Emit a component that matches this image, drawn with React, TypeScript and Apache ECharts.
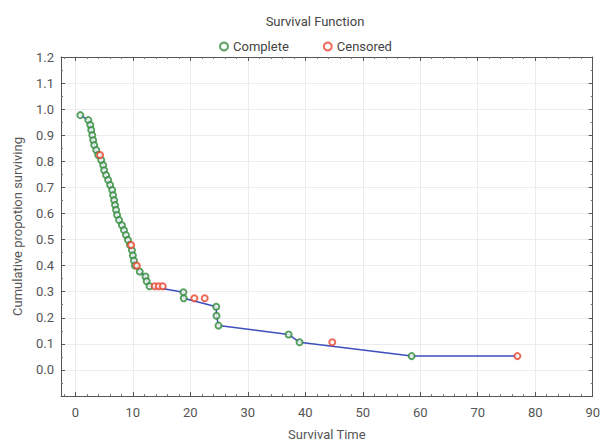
import React, { useEffect, useRef } from "react";
import * as echarts from "echarts";

const completeTime = [0.86, 2.25, 2.6, 2.76, 2.94, 3.1, 3.28, 3.63, 3.97, 4.5, 4.84, 5.0, 5.35, 5.7, 6.05, 6.4, 6.56, 6.74, 6.9, 7.08, 7.25, 7.6, 8.1, 8.46, 8.8, 9.15, 9.5, 9.84, 10.0, 10.2, 10.36, 11.2, 12.2, 12.4, 12.9, 18.8, 18.85, 24.5, 24.55, 24.9, 37.1, 39.0, 58.5];
const completeSurv = [0.977, 0.958, 0.939, 0.92, 0.9, 0.881, 0.862, 0.843, 0.824, 0.805, 0.785, 0.766, 0.747, 0.728, 0.709, 0.69, 0.67, 0.651, 0.632, 0.613, 0.594, 0.575, 0.555, 0.536, 0.517, 0.498, 0.479, 0.459, 0.439, 0.419, 0.4, 0.377, 0.358, 0.34, 0.321, 0.298, 0.275, 0.242, 0.208, 0.17, 0.136, 0.106, 0.053];
const censoredTime = [4.3, 9.7, 10.7, 13.8, 14.5, 15.2, 20.7, 22.5, 44.7, 76.9];
const censoredSurv = [0.824, 0.479, 0.4, 0.321, 0.321, 0.321, 0.275, 0.275, 0.106, 0.053];

const xMin = -2.5;
const xMax = 90;
const yMin = -0.1;
const yMax = 1.2;

const GREEN = "#2f8a3a";
const RED = "#e8432e";

export default function App() {
  const ref = useRef<HTMLDivElement>(null);
  useEffect(() => {
    if (!ref.current) return;
    const chart = echarts.init(ref.current, null, { renderer: "svg" });
    const completePts = completeTime.map((t, i) => [t, completeSurv[i]]);
    const censoredPts = censoredTime.map((t, i) => [t, censoredSurv[i]]);
    const lastT = censoredTime[censoredTime.length - 1];
    const linePts = [...completePts];
    if (lastT > completeTime[completeTime.length - 1]) {
      linePts.push([lastT, completeSurv[completeSurv.length - 1]]);
    }
    const font = "Roboto";
    const txt = "#555";
    const axisLine = { show: true, onZero: false, lineStyle: { color: "#555", width: 1 } };
    const xCommon = {
      type: "value" as const,
      min: xMin,
      max: xMax,
      splitNumber: 9,
      axisLine,
      axisTick: { show: true, inside: true, length: 4, lineStyle: { color: "#555" } },
      minorTick: { show: true, splitNumber: 5, length: 2, lineStyle: { color: "#777" } },
    };
    const yCommon = {
      type: "value" as const,
      min: yMin,
      max: yMax,
      interval: 0.1,
      axisLine,
      axisTick: { show: true, inside: true, length: 4, lineStyle: { color: "#555" } },
      minorTick: { show: true, splitNumber: 2, length: 2, lineStyle: { color: "#777" } },
    };
    chart.setOption({
      animation: false,
      backgroundColor: "#fff",
      title: {
        text: "Survival Function",
        left: 310,
        textAlign: "center",
        top: 10,
        textStyle: { fontFamily: font, fontSize: 13, fontWeight: "normal", color: "#444" },
      },
      legend: {
        top: 35,
        left: 214,
        itemGap: 34,
        itemWidth: 8,
        itemHeight: 8,
        textStyle: { fontFamily: font, fontSize: 13, color: "#444" },
        data: [
          { name: "Complete", icon: "circle", itemStyle: { color: "#fff", borderColor: GREEN, borderWidth: 2 } },
          { name: "Censored", icon: "circle", itemStyle: { color: "#fff", borderColor: RED, borderWidth: 2 } },
        ],
      },
      grid: { left: 61, right: 7, top: 57, bottom: 45, containLabel: false },
      xAxis: [
        {
          ...xCommon,
          position: "bottom",
          name: "Survival Time",
          nameLocation: "middle",
          nameGap: 32,
          nameTextStyle: { fontFamily: font, fontSize: 13, color: txt },
          axisLabel: {
            fontFamily: font,
            fontSize: 13,
            color: txt,
            margin: 10,
            formatter: (v: number) => (Math.abs(v % 10) < 1e-6 ? String(v) : ""),
          },
          splitLine: { show: true, lineStyle: { color: "#ececec" } },
        },
        {
          ...xCommon,
          position: "top",
          axisLabel: { show: false },
          splitLine: { show: false },
        },
      ],
      yAxis: [
        {
          ...yCommon,
          position: "left",
          name: "Cumulative propotion surviving",
          nameLocation: "middle",
          nameGap: 37,
          nameTextStyle: { fontFamily: font, fontSize: 13, color: txt },
          axisLabel: {
            fontFamily: font,
            fontSize: 13,
            color: txt,
            margin: 7,
            formatter: (v: number) => (v < -0.01 ? "" : v.toFixed(1)),
          },
          splitLine: { show: true, lineStyle: { color: "#ececec" } },
        },
        {
          ...yCommon,
          position: "right",
          axisLabel: { show: false },
          splitLine: { show: false },
        },
      ],
      series: [
        {
          name: "KM",
          type: "line",
          data: linePts,
          showSymbol: false,
          symbol: "none",
          lineStyle: { color: "#3d4fbf", width: 1.5 },
          z: 2,
          legendHoverLink: false,
        },
        {
          name: "Complete",
          type: "scatter",
          data: completePts,
          symbol: "emptyCircle",
          symbolSize: 6,
          itemStyle: { color: GREEN, borderColor: GREEN, borderWidth: 1.5 },
          z: 3,
        },
        {
          name: "Censored",
          type: "scatter",
          data: censoredPts,
          symbol: "emptyCircle",
          symbolSize: 6,
          itemStyle: { color: RED, borderColor: RED, borderWidth: 1.5 },
          z: 4,
        },
      ],
    });
    return () => chart.dispose();
  }, []);
  return <div ref={ref} style={{ width: 603, height: 446, position: "absolute", left: 0, top: 0 }} />;
}
